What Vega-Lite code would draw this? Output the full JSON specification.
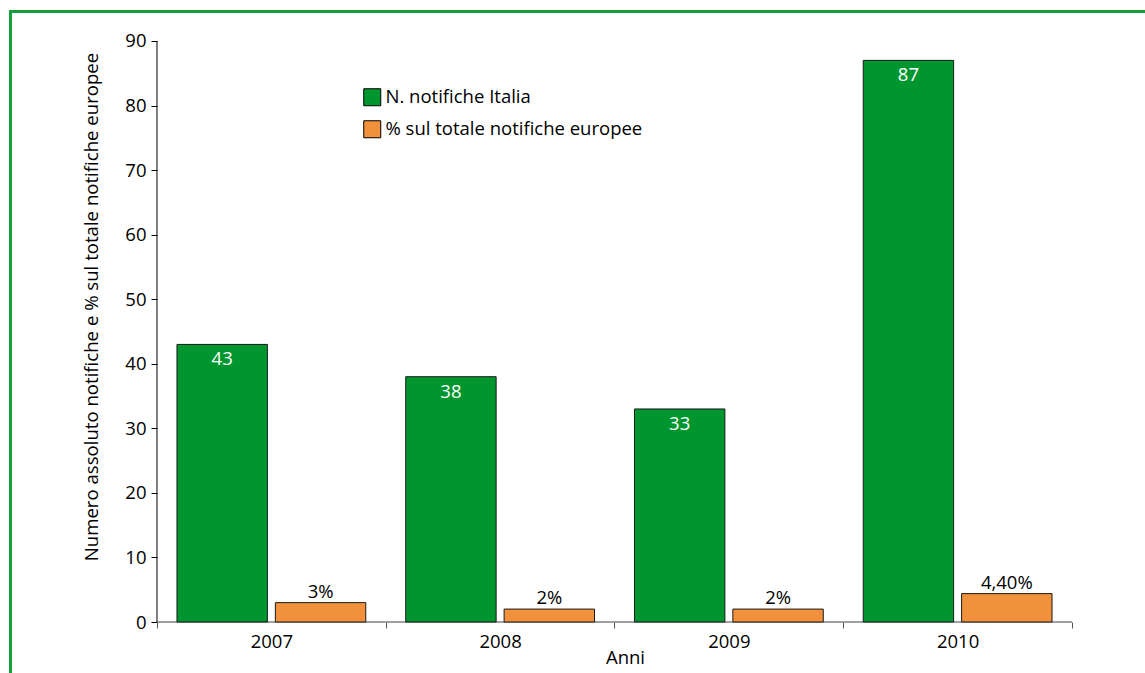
{
  "$schema": "https://vega.github.io/schema/vega-lite/v6.json",
  "width": 1135,
  "height": 662,
  "autosize": {"type": "none"},
  "padding": {"left": 10, "top": 11, "right": 0, "bottom": 0},
  "background": "white",
  "config": {"view": {"stroke": null}, "font": "Open Sans"},
  "datasets": {
    "bars": [
      {"year": "2007", "series": "N. notifiche Italia", "value": 43, "label": "43"},
      {"year": "2007", "series": "% sul totale notifiche europee", "value": 3, "label": "3%"},
      {"year": "2008", "series": "N. notifiche Italia", "value": 38, "label": "38"},
      {"year": "2008", "series": "% sul totale notifiche europee", "value": 2, "label": "2%"},
      {"year": "2009", "series": "N. notifiche Italia", "value": 33, "label": "33"},
      {"year": "2009", "series": "% sul totale notifiche europee", "value": 2, "label": "2%"},
      {"year": "2010", "series": "N. notifiche Italia", "value": 87, "label": "87"},
      {"year": "2010", "series": "% sul totale notifiche europee", "value": 4.4, "label": "4,40%"}
    ]
  },
  "data": {"name": "bars"},
  "layer": [
    {
      "transform": [{"filter": "datum.series === 'N. notifiche Italia'"}],
      "mark": {"type": "bar", "fillOpacity": 0, "stroke": "#808080", "strokeWidth": 1},
      "encoding": {
        "x": {
          "field": "year", "type": "nominal",
          "scale": {"paddingInner": 0, "paddingOuter": 0.480874, "align": 0.66818},
          "axis": {"orient": "top", "offset": 0, "domainColor": "#13a03a", "domainWidth": 3, "domainCap": "square", "ticks": false, "labels": false, "title": null, "grid": false}
        },
        "y": {
          "datum": 0, "type": "quantitative",
          "scale": {"domain": [-7.9, 94.647], "nice": false, "zero": false},
          "axis": {"orient": "left", "offset": 0, "domainColor": "#13a03a", "domainWidth": 3, "domainCap": "square", "ticks": false, "labels": false, "title": null, "grid": false}
        },
        "y2": {"datum": 0}
      }
    },
    {
      "mark": {"type": "bar", "stroke": "#1a1a1a", "strokeWidth": 1},
      "encoding": {
        "x": {
          "field": "year", "type": "nominal",
          "axis": {
            "orient": "bottom", "offset": -51, "domain": false, "tickBand": "extent", "tickSize": 6, "tickColor": "#555555",
            "labelAngle": 0, "labelFontSize": 18.5, "labelColor": "black", "labelPadding": 4,
            "title": "Anni", "titleFontSize": 18.5, "titleFontWeight": "normal", "titleColor": "black",
            "titleX": 615, "titleY": 41, "titleBaseline": "alphabetic", "grid": false
          }
        },
        "xOffset": {
          "field": "series", "type": "nominal",
          "scale": {"domain": ["N. notifiche Italia", "% sul totale notifiche europee"], "paddingInner": 0.081, "paddingOuter": 0.203}
        },
        "y": {
          "field": "value", "type": "quantitative",
          "axis": {
            "orient": "left", "offset": -147, "domain": false, "values": [0, 10, 20, 30, 40, 50, 60, 70, 80, 90],
            "tickSize": 6, "tickColor": "black", "labelFontSize": 18.5, "labelColor": "black", "labelPadding": 5, "grid": false,
            "title": "Numero assoluto notifiche e % sul totale notifiche europee", "titleFontSize": 18.6, "titleFontWeight": "normal", "titleColor": "black",
            "titleX": -66, "titleY": 295.5, "titleAngle": 270, "titleBaseline": "middle", "titleAlign": "center", "titleLimit": 1000
          }
        },
        "y2": {"datum": 0},
        "color": {
          "field": "series", "type": "nominal",
          "scale": {"domain": ["N. notifiche Italia", "% sul totale notifiche europee"], "range": ["#00962f", "#f2913b"]},
          "legend": {
            "orient": "none", "legendX": 353, "legendY": 77, "title": null, "padding": 0,
            "symbolType": "square", "symbolSize": 289, "symbolStrokeColor": "black", "symbolStrokeWidth": 1, "symbolOpacity": 1,
            "labelFontSize": 18.5, "labelColor": "black", "labelOffset": 4, "labelLimit": 600, "rowPadding": 10
          }
        }
      }
    },
    {
      "transform": [{"filter": "datum.series === 'N. notifiche Italia'"}],
      "mark": {"type": "text", "baseline": "alphabetic", "dy": 21, "fontSize": 18.5, "color": "white", "font": "Open Sans"},
      "encoding": {
        "x": {"field": "year", "type": "nominal", "axis": null},
        "xOffset": {"field": "series", "type": "nominal"},
        "y": {"field": "value", "type": "quantitative", "axis": null},
        "text": {"field": "label"}
      }
    },
    {
      "transform": [{"filter": "datum.series !== 'N. notifiche Italia'"}],
      "mark": {"type": "text", "baseline": "alphabetic", "dy": -5, "fontSize": 18.5, "color": "black", "font": "Open Sans"},
      "encoding": {
        "x": {"field": "year", "type": "nominal", "axis": null},
        "xOffset": {"field": "series", "type": "nominal"},
        "y": {"field": "value", "type": "quantitative", "axis": null},
        "text": {"field": "label"}
      }
    },
    {
      "transform": [{"filter": "datum.series === 'N. notifiche Italia' && datum.year === '2007'"}],
      "mark": {"type": "rule", "color": "black", "strokeWidth": 1},
      "encoding": {
        "x": {"field": "year", "type": "nominal", "bandPosition": 0, "axis": null},
        "y": {"datum": 0, "type": "quantitative", "axis": null},
        "y2": {"datum": 90}
      }
    }
  ],
  "resolve": {"axis": {"x": "independent", "y": "independent"}}
}
